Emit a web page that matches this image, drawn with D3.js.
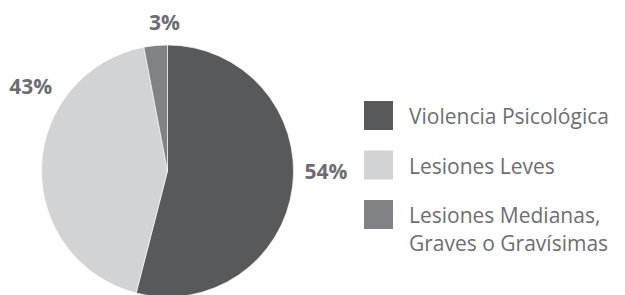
<!DOCTYPE html>
<html>
<head>
<meta charset="utf-8">
<script src="https://cdn.jsdelivr.net/npm/d3@7"></script>
<style>
  body { margin: 0; background: #fff; }
  text { font-family: "Open Sans", sans-serif; }
</style>
</head>
<body>
<div id="chart"></div>
<script>
// data
const categories = ["Violencia Psicológica", "Lesiones Leves", "Lesiones Medianas, Graves o Gravísimas"];
const legendLines = [["Violencia Psicológica"], ["Lesiones Leves"], ["Lesiones Medianas,", "Graves o Gravísimas"]];
const values = [54, 43, 3];
const pctLabels = ["54%", "43%", "3%"];
const colors = ["#58595b", "#d1d3d4", "#808285"];

const width = 625, height = 295;
const cx = 167.5, cy = 171, radius = 126;

const svg = d3.select("#chart")
    .append("svg")
    .attr("width", width)
    .attr("height", height);

const g = svg.append("g")
    .attr("transform", `translate(${cx},${cy})`);

const pie = d3.pie().sort(null).value(d => d);
const arc = d3.arc().innerRadius(0).outerRadius(radius);
const arcs = pie(values);

g.selectAll("path")
    .data(arcs)
    .join("path")
    .attr("d", arc)
    .attr("fill", (d, i) => colors[i])
    .attr("stroke", "#fff")
    .attr("stroke-width", 0.6);

// percent labels placed around the pie (angle in degrees from 12 o'clock, distance from center)
const labelPlace = [[90, 158.5], [301.8, 161], [358.8, 149]];
g.selectAll("text.pct")
    .data(arcs)
    .join("text")
    .attr("class", "pct")
    .attr("x", (d, i) => Math.sin(labelPlace[i][0] * Math.PI / 180) * labelPlace[i][1])
    .attr("y", (d, i) => -Math.cos(labelPlace[i][0] * Math.PI / 180) * labelPlace[i][1])
    .attr("dy", "0.36em")
    .attr("text-anchor", "middle")
    .style("font-size", "21px")
    .style("font-weight", "bold")
    .attr("fill", "#6d6e71")
    .text((d, i) => pctLabels[i]);

// legend
const legend = svg.append("g")
    .attr("transform", "translate(364,101)");

legendLines.forEach((lines, i) => {
    legend.append("rect")
        .attr("x", 0)
        .attr("y", i * 49.5)
        .attr("width", 29)
        .attr("height", 29)
        .attr("fill", colors[i]);

    lines.forEach((line, j) => {
        legend.append("text")
            .attr("x", 45)
            .attr("y", i * 49.5 + 23 - j * 0.5 + j * 28.5)
            .style("font-size", "21px")
            .attr("fill", "#6d6e71")
            .text(line);
    });
});
</script>
</body>
</html>
